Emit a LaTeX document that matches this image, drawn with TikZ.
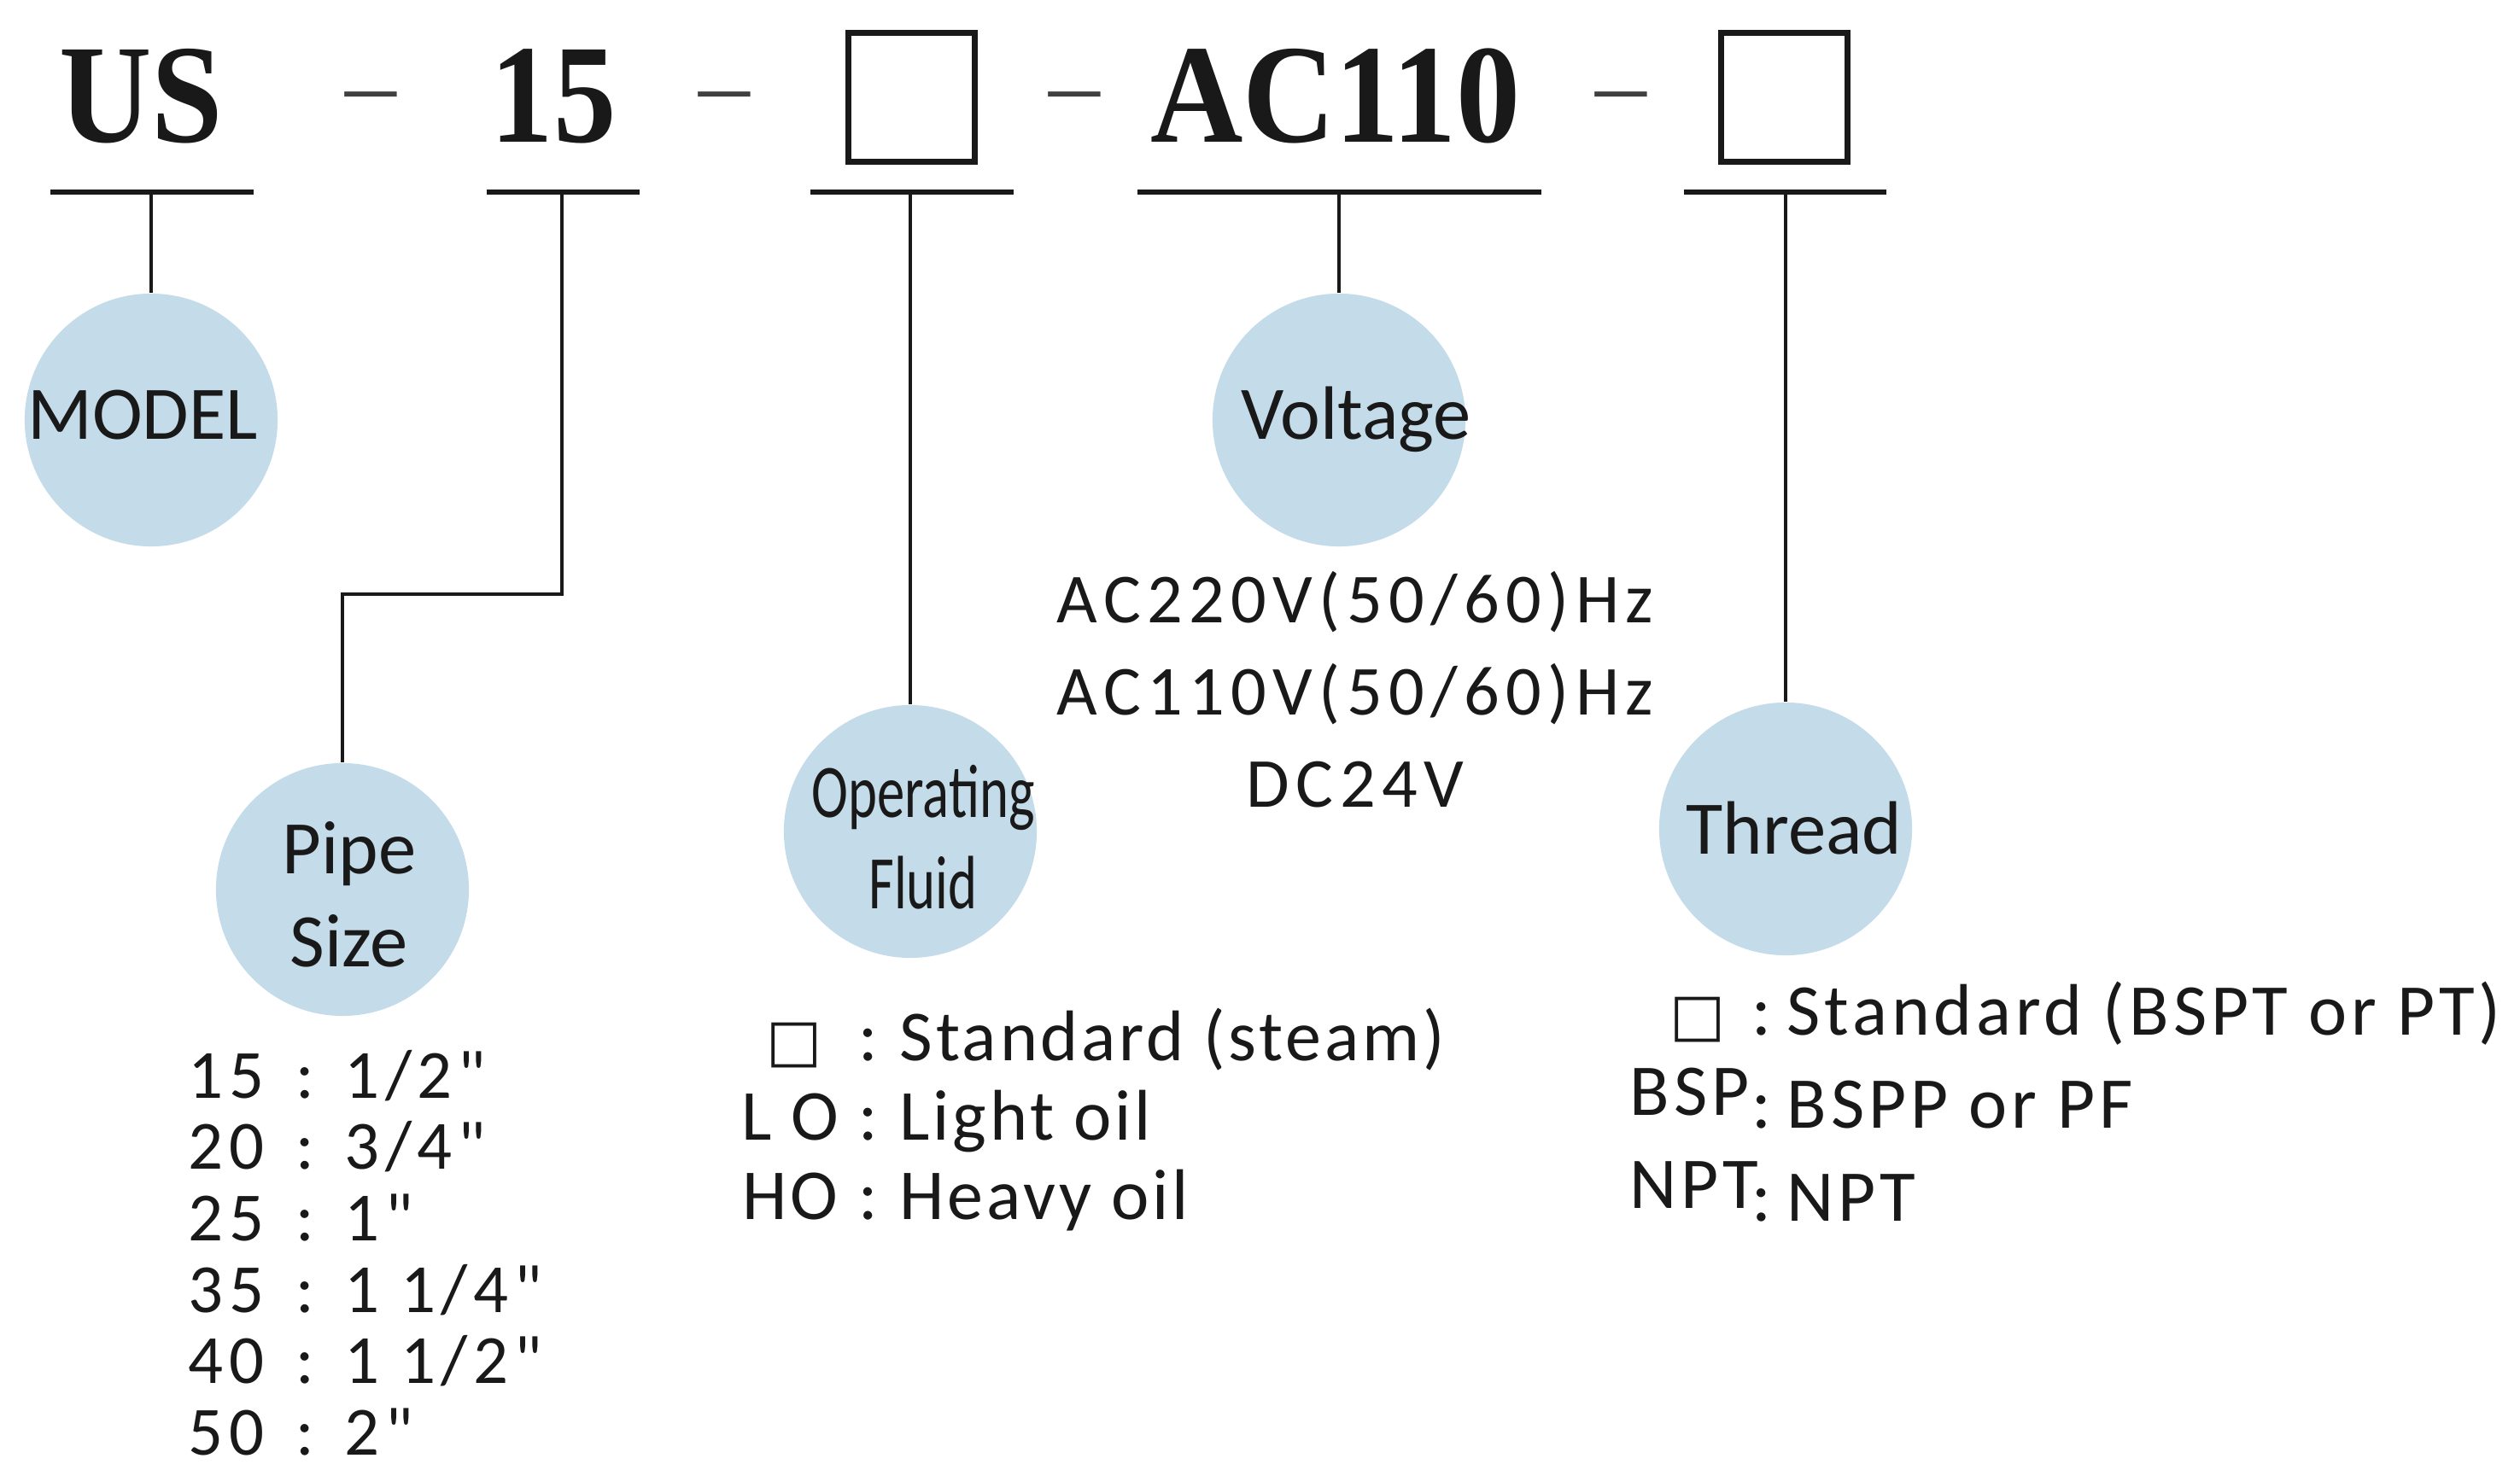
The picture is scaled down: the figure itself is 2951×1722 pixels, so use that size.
\documentclass[tikz,border=0pt]{standalone}
\usepackage{graphicx}
\usepackage{fontspec}
\setmainfont{Carlito}
\newfontfamily\hdrfont{Liberation Serif}
\newfontfamily\symfont{DejaVu Sans}
\newfontfamily\volfont{Carlito}[LetterSpace=9]
\newfontfamily\pipefont{Carlito}[LetterSpace=8,Ligatures=TeXOff]
\newfontfamily\fluidfont{Carlito}[LetterSpace=4.5]
\newfontfamily\thrfont{Carlito}[LetterSpace=5.7]
\newlength\px \setlength\px{0.01cm}
\newcommand\sq{{\symfont\fontsize{19.6pt}{20pt}\selectfont\char"25A1}}
\newcommand\prow[2]{\makebox[117\px][l]{#1}\makebox[66\px][l]{\hspace{9\px}:}#2}
\newcommand\frow[2]{\makebox[117\px][c]{#1}\makebox[70\px][l]{\hspace{22\px}:}#2}
\newcommand\trow[2]{\makebox[135\px][l]{#1}\makebox[49\px][l]{\hspace{8\px}:}#2}
\definecolor{bub}{RGB}{196,219,233}
\definecolor{ink}{RGB}{25,25,25}
\begin{document}
\begin{tikzpicture}[x=0.01cm,y=-0.01cm,
  hdr/.style={font=\hdrfont\bfseries\fontsize{46.9pt}{50pt}\selectfont,anchor=base,inner sep=0pt,text=ink},
  sep/.style={font=\hdrfont\fontsize{34pt}{34pt}\selectfont,anchor=base,inner sep=0pt,text=black!75},
  slot/.style={draw=ink,line width=2pt,minimum width=1.48cm,minimum height=1.51cm,inner sep=0pt},
  uline/.style={draw=ink,line width=1.7pt},
  conn/.style={draw=ink,line width=1pt},
  circ/.style={circle,fill=bub,minimum size=2.96cm,inner sep=0pt},
  lbl/.style={font=\fontsize{25.2pt}{31pt}\selectfont,anchor=base,inner sep=0pt,text=ink},
  lst/.style={inner sep=0pt,text=ink}]
\useasboundingbox[fill=white] (0,0) rectangle (2951,1722);

% header code
\node[hdr] (us) at (165,167) {\scalebox{0.91}[1]{US}};
\node[sep] (d1) at (434,139) {–};
\node[hdr] (n15) at (648,167) {\scalebox{0.89}[1]{15}};
\node[sep] (d2) at (848,139) {–};
\node[slot] (box1) at (1067.5,114) {};
\node[sep] (d3) at (1258,139) {–};
\node[hdr] (ac) at (1564,167) {\scalebox{0.91}[1]{AC110}};
\node[sep] (d4) at (1898,139) {–};
\node[slot] (box2) at (2089.5,114) {};

% underlines
\draw[uline] (59,225) -- (297,225);
\draw[uline] (570,225) -- (749,225);
\draw[uline] (949,225) -- (1187,225);
\draw[uline] (1332,225) -- (1805,225);
\draw[uline] (1972,225) -- (2209,225);
\coordinate (u1) at (177,225);
\coordinate (u2) at (658,225);
\coordinate (u3) at (1066,225);
\coordinate (u4) at (1568,225);
\coordinate (u5) at (2091,225);
\coordinate (bend) at (401,696);

% bubbles
\node[circ] (model) at (177,492) {};
\node[circ] (volt) at (1568,492) {};
\node[circ] (pipe) at (401,1042) {};
\node[circ] (fluid) at (1066,974) {};
\node[circ] (thread) at (2091,971) {};

% connectors
\draw[conn] (u1) -- (model.north);
\draw[conn] (u2) |- (bend) -- (pipe.north);
\draw[conn] (u3) -- (fluid.north);
\draw[conn] (u4) -- (volt.north);
\draw[conn] (u5) -- (thread.north);

% bubble labels
\node[lbl] (modelt) at (167,515) {MODEL};
\node[lbl] (voltt) at (1588,515) {Voltage};
\node[lbl] (pipet) at (409,1023) {\begin{tabular}[t]{@{}c@{}}Pipe\\Size\end{tabular}};
\node[lbl] (fluidt) at (1081,957) {\fontsize{25.2pt}{30.7pt}\selectfont\begin{tabular}[t]{@{}c@{}}\scalebox{0.73}[1]{Operating}\\\scalebox{0.73}[1]{Fluid}\end{tabular}};
\node[lbl] (threadt) at (2101,1000) {Thread};

% option lists
\node[lst,anchor=base] (voltlist) at (1587,730) {\volfont\fontsize{23.4pt}{30.6pt}\selectfont
  \begin{tabular}[t]{@{}c@{}}AC220V(50/60)Hz\\AC110V(50/60)Hz\\DC24V\end{tabular}};
\node[lst,anchor=base west] (pipelist) at (220,1286) {\pipefont\fontsize{23pt}{23.8pt}\selectfont
  \begin{tabular}[t]{@{}l@{}}\prow{15}{1/2"}\\\prow{20}{3/4"}\\\prow{25}{1"}\\\prow{35}{1 1/4"}\\\prow{40}{1 1/2"}\\\prow{50}{2"}\end{tabular}};
\node[lst,anchor=base west] (fluidlist) at (866,1242) {\fluidfont\fontsize{23.9pt}{26.5pt}\selectfont
  \begin{tabular}[t]{@{}l@{}}\frow{\hspace{10\px}\sq}{Standard (steam)}\\\frow{L O}{Light oil}\\\frow{HO}{Heavy oil}\end{tabular}};
\node[lst,anchor=base west] (thrlist) at (1908,1212) {\thrfont\fontsize{24.3pt}{31pt}\selectfont
  \begin{tabular}[t]{@{}l@{}}\trow{\hspace{47\px}\sq}{Standard (BSPT or PT)}\\\trow{\raisebox{15\px}{BSP}}{BSPP or PF}\\\trow{\raisebox{15\px}{NPT}}{NPT}\end{tabular}};
\end{tikzpicture}
\end{document}
